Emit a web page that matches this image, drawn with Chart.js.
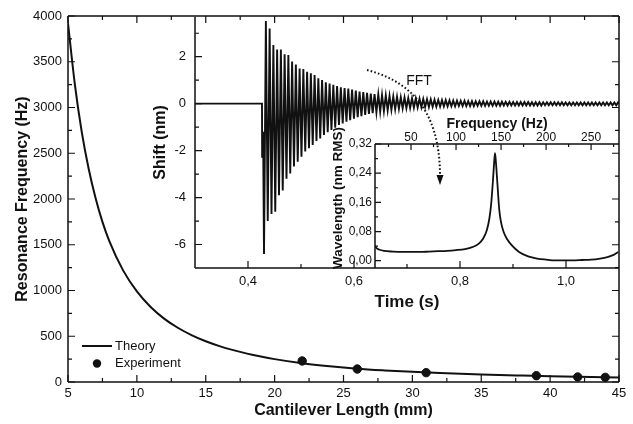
<!DOCTYPE html>
<html>
<head>
<meta charset="utf-8">
<script src="https://cdn.jsdelivr.net/npm/chart.js@4.4.1/dist/chart.umd.min.js"></script>
<style>
  html, body { margin: 0; padding: 0; background: #fff; }
  #wrap { position: relative; width: 633px; height: 424px; }
  #wrap canvas { position: absolute; left: 0; top: 0; }
</style>
</head>
<body>
<div id="wrap">
  <canvas id="main" width="633" height="424"></canvas>
  <canvas id="shift" width="633" height="424"></canvas>
  <canvas id="fft" width="633" height="424"></canvas>
</div>
<script>
const ink = '#111';
const family = 'Arial, "Liberation Sans", Helvetica, sans-serif';

// main panel: resonance frequency vs cantilever length
const lengthMm = [5, 5.5, 6, 6.5, 7, 7.5, 8, 9, 10, 11, 12, 13, 14, 15, 16, 17, 18, 19, 20,
  22, 24, 26, 28, 30, 32, 35, 38, 40, 42, 45];
const theoryHz = [3920, 3250, 2730, 2330, 2010, 1750, 1540, 1220, 990, 820, 690, 590, 510, 445, 392, 348, 310, 278, 250,
  205, 172, 146, 127, 111, 98, 82, 70, 63, 57, 50];
const experimentMm = [22, 26, 31, 39, 42, 44];
const experimentHz = [230, 142, 102, 69, 55, 51];
const mainXTicks = [5, 10, 15, 20, 25, 30, 35, 40, 45];
const mainXMinor = [7.5, 12.5, 17.5, 22.5, 27.5, 32.5, 37.5, 42.5];
const mainYTicks = [0, 500, 1000, 1500, 2000, 2500, 3000, 3500, 4000];
const mainYMinor = [250, 750, 1250, 1750, 2250, 2750, 3250, 3750];

// inset 1: shift vs time (flat lead-in, then one low/high extreme per cycle)
const shiftLeadT = [0.3, 0.4264, 0.4267, 0.4285];
const shiftLeadV = [0, 0, -2.3, -1.2];
const shiftStart = 0.4302;   // time of first negative extreme (s)
const shiftPeriod = 0.00707; // oscillation period (s)
const shiftLow = [-6.4, -5.0, -4.7, -4.6, -3.9, -3.7, -3.2, -2.97, -2.68, -2.47,
  -2.26, -2.04, -1.9, -1.76, -1.59, -1.48, -1.33, -1.22, -1.12, -1.02,
  -0.91, -0.84, -0.77, -0.7, -0.64, -0.58, -0.53, -0.48, -0.44, -0.4,
  -0.37, -0.34, -0.31, -0.28, -0.26, -0.24, -0.22, -0.2, -0.19, -0.18,
  -0.17, -0.16, -0.15, -0.14, -0.14, -0.13, -0.13, -0.12, -0.12, -0.11,
  -0.11, -0.11, -0.1, -0.1, -0.1, -0.1, -0.1, -0.09, -0.09, -0.09,
  -0.09, -0.09, -0.09, -0.09, -0.08, -0.08, -0.08, -0.08, -0.08, -0.08,
  -0.08, -0.08, -0.08, -0.08, -0.08, -0.07, -0.07, -0.07, -0.07, -0.07,
  -0.07, -0.07, -0.07, -0.07, -0.07, -0.07, -0.07, -0.07, -0.07, -0.07,
  -0.07, -0.07, -0.07, -0.07, -0.07];
const shiftHigh = [3.52, 3.2, 2.5, 2.31, 2.31, 2.1, 2.07, 1.79, 1.67, 1.5,
  1.48, 1.36, 1.29, 1.22, 1.08, 1.01, 0.91, 0.86, 0.8, 0.75,
  0.7, 0.67, 0.64, 0.6, 0.56, 0.52, 0.49, 0.46, 0.43, 0.41,
  0.39, 0.37, 0.35, 0.33, 0.31, 0.29, 0.27, 0.26, 0.24, 0.23,
  0.22, 0.21, 0.2, 0.19, 0.18, 0.17, 0.16, 0.15, 0.15, 0.14,
  0.13, 0.13, 0.12, 0.12, 0.11, 0.11, 0.1, 0.1, 0.1, 0.09,
  0.09, 0.09, 0.08, 0.08, 0.08, 0.08, 0.07, 0.07, 0.07, 0.07,
  0.07, 0.06, 0.06, 0.06, 0.06, 0.06, 0.06, 0.06, 0.06, 0.06,
  0.05, 0.05, 0.05, 0.05, 0.05, 0.05, 0.05, 0.05, 0.05, 0.05,
  0.05, 0.05, 0.05, 0.05, 0.05];
const shiftTimeTicks = [0.4, 0.6, 0.8, 1.0];
const shiftTimeMinor = [0.5, 0.7, 0.9];
const shiftTicks = [-6, -4, -2, 0, 2];
const shiftMinor = [-5, -3, -1, 1, 3];

// inset 2: FFT spectrum
const fftHz = [10, 12, 15, 20, 30, 40, 50, 60, 70, 80, 90, 100, 110, 118, 125, 130, 134, 137, 139, 141,
  142.5, 143.3, 144.3, 146, 148, 150, 153, 157, 162, 170, 180, 190, 200, 210, 220, 230, 240, 250, 260, 268, 275, 280];
const fftAmp = [0.040, 0.034, 0.030, 0.027, 0.025, 0.024, 0.024, 0.024, 0.025, 0.026, 0.027, 0.029, 0.032, 0.037, 0.046, 0.060, 0.082, 0.115, 0.155, 0.22,
  0.275, 0.295, 0.27, 0.21, 0.14, 0.105, 0.078, 0.058, 0.042, 0.024, 0.012, 0.006, 0.003, 0.001, 0.001, 0.001, 0.002, 0.003, 0.006, 0.010, 0.016, 0.024];
const fftFreqTicks = [50, 100, 150, 200, 250];
const fftFreqMinor = [25, 75, 125, 175, 225, 275];
const fftAmpTicks = [0, 0.08, 0.16, 0.24, 0.32];
const fftAmpMinor = [0.04, 0.12, 0.2, 0.28];

// draws the axis box and inward tick marks
const framePlugin = {
  id: 'frame',
  afterDatasetsDraw(chart, args, opts) {
    const { ctx, chartArea: a, scales } = chart;
    ctx.save();
    ctx.strokeStyle = ink;
    ctx.lineWidth = 1.5;
    ctx.beginPath();
    (opts.sides || []).forEach(side => {
      if (side === 'left') { ctx.moveTo(a.left, a.top); ctx.lineTo(a.left, a.bottom); }
      if (side === 'right') { ctx.moveTo(a.right, a.top); ctx.lineTo(a.right, a.bottom); }
      if (side === 'top') { ctx.moveTo(a.left, a.top); ctx.lineTo(a.right, a.top); }
      if (side === 'bottom') { ctx.moveTo(a.left, a.bottom); ctx.lineTo(a.right, a.bottom); }
    });
    ctx.stroke();
    ctx.lineWidth = 1.2;
    ctx.beginPath();
    (opts.ticks || []).forEach(t => {
      const sc = scales[t.axis];
      t.values.forEach(v => {
        const p = sc.getPixelForValue(v);
        t.sides.forEach(side => {
          if (side === 'left') { ctx.moveTo(a.left, p); ctx.lineTo(a.left + t.len, p); }
          if (side === 'right') { ctx.moveTo(a.right, p); ctx.lineTo(a.right - t.len, p); }
          if (side === 'bottom') { ctx.moveTo(p, a.bottom); ctx.lineTo(p, a.bottom - t.len); }
          if (side === 'top') { ctx.moveTo(p, a.top); ctx.lineTo(p, a.top + t.len); }
        });
      });
    });
    ctx.stroke();
    // optional rotated side title at a fixed spot
    if (opts.sideTitle) {
      const st = opts.sideTitle;
      ctx.save();
      ctx.translate(st.x, st.y);
      ctx.rotate(-Math.PI / 2);
      ctx.font = 'bold ' + st.size + 'px ' + family;
      ctx.fillStyle = ink;
      ctx.textAlign = 'center';
      ctx.textBaseline = 'middle';
      ctx.fillText(st.text, 0, 0);
      ctx.restore();
    }
    ctx.restore();
  }
};

// legend box in the lower left of the main panel
const keyPlugin = {
  id: 'key',
  afterDraw(chart) {
    const { ctx, chartArea: a } = chart;
    const ds = chart.data.datasets;
    ctx.save();
    ctx.font = '13px ' + family;
    ctx.fillStyle = ink;
    ctx.textBaseline = 'middle';
    const x0 = a.left + 14, y0 = a.bottom - 36;
    ctx.strokeStyle = ds[0].borderColor;
    ctx.lineWidth = ds[0].borderWidth;
    ctx.beginPath();
    ctx.moveTo(x0, y0); ctx.lineTo(x0 + 30, y0);
    ctx.stroke();
    ctx.fillText(ds[0].label, x0 + 33, y0);
    ctx.beginPath();
    ctx.arc(x0 + 15, y0 + 17.5, ds[1].pointRadius, 0, Math.PI * 2);
    ctx.fillStyle = ds[1].backgroundColor;
    ctx.fill();
    ctx.fillStyle = ink;
    ctx.fillText(ds[1].label, x0 + 33, y0 + 17.5);
    ctx.restore();
  }
};

// dotted "FFT" arrow between the two insets
const arrowPlugin = {
  id: 'arrow',
  afterDraw(chart) {
    const { ctx } = chart;
    ctx.save();
    ctx.strokeStyle = ink;
    ctx.lineWidth = 2;
    ctx.setLineDash([1.6, 2.2]);
    ctx.beginPath();
    ctx.moveTo(367, 70);
    ctx.bezierCurveTo(405, 80, 440, 105, 440, 176);
    ctx.stroke();
    ctx.setLineDash([]);
    ctx.fillStyle = ink;
    ctx.beginPath();
    ctx.moveTo(436.5, 175); ctx.lineTo(443.5, 175); ctx.lineTo(440, 185);
    ctx.closePath();
    ctx.fill();
    ctx.font = '14px ' + family;
    ctx.textAlign = 'center';
    ctx.textBaseline = 'middle';
    ctx.fillText('FFT', 419, 81);
    ctx.restore();
  }
};

const tickFont = size => ({ family, size });
const titleFont = size => ({ family, size, weight: 'bold' });
const comma = d => v => v.toFixed(d).replace('.', ',');
const plain = v => String(v);
const setTicks = arr => s => { s.ticks = arr.map(v => ({ value: v })); };
const noGrid = { display: false, drawTicks: false };

new Chart(document.getElementById('main'), {
  type: 'scatter',
  data: {
    datasets: [
      {
        label: 'Theory',
        data: lengthMm.map((x, i) => ({ x, y: theoryHz[i] })),
        showLine: true,
        borderColor: ink,
        borderWidth: 2,
        pointRadius: 0,
        cubicInterpolationMode: 'monotone',
        order: 2
      },
      {
        label: 'Experiment',
        data: experimentMm.map((x, i) => ({ x, y: experimentHz[i] })),
        backgroundColor: ink,
        borderColor: ink,
        pointRadius: 4.2,
        order: 1
      }
    ]
  },
  options: {
    responsive: false,
    animation: false,
    events: [],
    layout: { padding: { left: 0, top: 16, right: 14, bottom: 0 } },
    plugins: {
      legend: { display: false },
      tooltip: { enabled: false },
      frame: {
        sides: ['left', 'right', 'top', 'bottom'],
        ticks: [
          { axis: 'x', values: mainXTicks, len: 7, sides: ['bottom', 'top'] },
          { axis: 'x', values: mainXMinor, len: 4, sides: ['bottom', 'top'] },
          { axis: 'y', values: mainYTicks, len: 7, sides: ['left', 'right'] },
          { axis: 'y', values: mainYMinor, len: 4, sides: ['left', 'right'] }
        ]
      }
    },
    scales: {
      x: {
        type: 'linear', min: 5, max: 45,
        grid: noGrid, border: { display: false },
        afterBuildTicks: setTicks(mainXTicks),
        afterFit: s => { s.height = 42; },
        ticks: { padding: 4, color: ink, font: tickFont(13), maxRotation: 0, autoSkip: false, callback: plain },
        title: { display: true, text: 'Cantilever Length (mm)', color: ink, font: titleFont(16), padding: { top: 0, bottom: 4 } }
      },
      y: {
        type: 'linear', min: 0, max: 4000,
        grid: noGrid, border: { display: false },
        afterBuildTicks: setTicks(mainYTicks),
        afterFit: s => { s.width = 68; },
        ticks: { padding: 6, color: ink, font: tickFont(13), autoSkip: false, callback: plain },
        title: { display: true, text: 'Resonance Frequency (Hz)', color: ink, font: titleFont(16), padding: { top: 13, bottom: 0 } }
      }
    }
  },
  plugins: [framePlugin, keyPlugin]
});

const shiftPoints = shiftLeadT.map((t, i) => ({ x: t, y: shiftLeadV[i] }));
shiftLow.forEach((lo, n) => {
  const t = shiftStart + n * shiftPeriod;
  shiftPoints.push({ x: t, y: lo });
  shiftPoints.push({ x: t + shiftPeriod / 2, y: shiftHigh[n] });
});
shiftPoints.push({ x: 1.1, y: 0 });

new Chart(document.getElementById('shift'), {
  type: 'line',
  data: {
    datasets: [{
      data: shiftPoints,
      borderColor: ink,
      borderWidth: 1.9,
      pointRadius: 0,
      tension: 0
    }]
  },
  options: {
    responsive: false,
    animation: false,
    events: [],
    layout: { padding: { left: 145, top: 16, right: 14, bottom: 106 } },
    plugins: {
      legend: { display: false },
      tooltip: { enabled: false },
      frame: {
        sides: ['left', 'bottom'],
        ticks: [
          { axis: 'x', values: shiftTimeTicks, len: 7, sides: ['bottom'] },
          { axis: 'x', values: shiftTimeMinor, len: 4, sides: ['bottom'] },
          { axis: 'y', values: shiftTicks, len: 7, sides: ['left'] },
          { axis: 'y', values: shiftMinor, len: 4, sides: ['left'] }
        ]
      }
    },
    scales: {
      x: {
        type: 'linear', min: 0.3, max: 1.1,
        grid: noGrid, border: { display: false },
        afterBuildTicks: setTicks(shiftTimeTicks),
        afterFit: s => { s.height = 50; },
        ticks: { padding: 6, color: ink, font: tickFont(13), maxRotation: 0, autoSkip: false, callback: comma(1) },
        title: { display: true, text: 'Time (s)', color: ink, font: titleFont(17), padding: { top: 0, bottom: 5 } }
      },
      y: {
        type: 'linear', min: -7, max: 3.7,
        grid: noGrid, border: { display: false },
        afterBuildTicks: setTicks(shiftTicks),
        afterFit: s => { s.width = 50; },
        ticks: { padding: 9, color: ink, font: tickFont(13), autoSkip: false, callback: plain },
        title: { display: true, text: 'Shift (nm)', color: ink, font: titleFont(16), padding: { top: 6, bottom: 0 } }
      }
    }
  },
  plugins: [framePlugin]
});

new Chart(document.getElementById('fft'), {
  type: 'line',
  data: {
    datasets: [{
      data: fftHz.map((x, i) => ({ x, y: fftAmp[i] })),
      borderColor: ink,
      borderWidth: 1.8,
      pointRadius: 0,
      cubicInterpolationMode: 'monotone'
    }]
  },
  options: {
    responsive: false,
    animation: false,
    events: [],
    layout: { padding: { left: 325, top: 106, right: 14, bottom: 156 } },
    plugins: {
      legend: { display: false },
      tooltip: { enabled: false },
      frame: {
        sides: ['left', 'top'],
        ticks: [
          { axis: 'x', values: fftFreqTicks, len: 6, sides: ['top'] },
          { axis: 'x', values: fftFreqMinor, len: 3, sides: ['top'] },
          { axis: 'y', values: fftAmpTicks, len: 6, sides: ['left'] },
          { axis: 'y', values: fftAmpMinor, len: 3, sides: ['left'] }
        ],
        sideTitle: { text: 'Wavelength (nm RMS)', x: 338, y: 198, size: 13.5 }
      }
    },
    scales: {
      x: {
        type: 'linear', position: 'top', min: 10, max: 281,
        grid: noGrid, border: { display: false },
        afterBuildTicks: setTicks(fftFreqTicks),
        afterFit: s => { s.height = 38; },
        ticks: { padding: -1, color: ink, font: tickFont(12), maxRotation: 0, autoSkip: false, callback: plain },
        title: { display: true, text: 'Frequency (Hz)', color: ink, font: titleFont(14), padding: { top: 10, bottom: 0 } }
      },
      y: {
        type: 'linear', min: -0.02, max: 0.32,
        grid: noGrid, border: { display: false },
        afterBuildTicks: setTicks(fftAmpTicks),
        afterFit: s => { s.width = 50; },
        ticks: { padding: 3, color: ink, font: tickFont(12), autoSkip: false, callback: comma(2) },
        title: { display: false }
      }
    }
  },
  plugins: [framePlugin, arrowPlugin]
});
</script>
</body>
</html>
